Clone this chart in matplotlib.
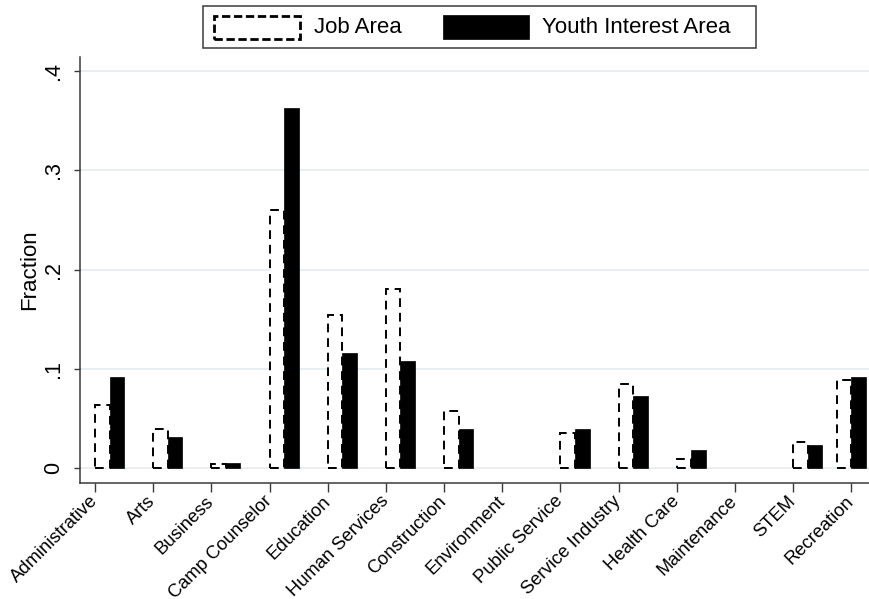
import matplotlib
matplotlib.use("Agg")
import matplotlib.pyplot as plt
from matplotlib.patches import Rectangle
from matplotlib.transforms import ScaledTranslation
import numpy as np

plt.rcParams['font.family'] = ['Liberation Sans', 'DejaVu Sans']

categories = ["Administrative", "Arts", "Business", "Camp Counselor", "Education",
              "Human Services", "Construction", "Environment", "Public Service",
              "Service Industry", "Health Care", "Maintenance", "STEM", "Recreation"]
job_area = [0.063, 0.039, 0.0034, 0.260, 0.154, 0.180, 0.057, 0.0, 0.035,
            0.084, 0.009, 0.0, 0.026, 0.089]
youth_interest = [0.092, 0.031, 0.005, 0.363, 0.116, 0.108, 0.039, 0.0, 0.039,
                  0.072, 0.018, 0.0, 0.023, 0.092]
# bar left-edge positions (Recreation bars sit half a bar-width to the left)
bar_pos = [0, 1, 2, 3, 4, 5, 6, 7, 8, 9, 10, 11, 12, 12.75]
yticks = [0, 0.1, 0.2, 0.3, 0.4]
yticklabels = ["0", ".1", ".2", ".3", ".4"]
legend_labels = ["Job Area", "Youth Interest Area"]

W, H = 870, 599
fig = plt.figure(figsize=(W / 100, H / 100), dpi=100)

def fx(x):
    return x / W

def fy(y):
    return 1 - y / H

ax_l, ax_r, ax_t, ax_b = 80, 870, 56.7, 482.7
ax = fig.add_axes([fx(ax_l), fy(ax_b), fx(ax_r - ax_l), (ax_b - ax_t) / H])

bw = 0.25
pos = np.array(bar_pos, dtype=float)
job = np.array(job_area)
youth = np.array(youth_interest)
mj = job > 0
my = youth > 0
ax.bar(pos[mj], job[mj], width=bw, align='edge', facecolor='white',
       edgecolor='black', linewidth=1.4, linestyle=(0, (4.5, 3)), zorder=3)
ax.bar(pos[my] + bw, youth[my], width=bw, align='edge', facecolor='black',
       edgecolor='black', linewidth=0.5, zorder=3)

ax.set_xlim(-0.258, 13.32)
ax.set_ylim(-0.0151, 0.4147)

ax.set_yticks(yticks)
ax.set_yticklabels(yticklabels, rotation=90, va='center', fontsize=15.5)
ax.yaxis.grid(True, color='#e6eef1', linewidth=1.3, zorder=0)
ax.set_axisbelow(True)

ax.set_xticks(np.arange(len(categories)))
ax.set_xticklabels(categories, rotation=45, ha='right', va='center',
                   rotation_mode='anchor', fontsize=13.2)
off = ScaledTranslation(2.5 / 72, 0, fig.dpi_scale_trans)
for lab in ax.get_xticklabels():
    lab.set_transform(lab.get_transform() + off)

for s in ['top', 'right']:
    ax.spines[s].set_visible(False)
for s in ['left', 'bottom']:
    ax.spines[s].set_color('#3a3a3a')
    ax.spines[s].set_linewidth(1.1)
ax.tick_params(axis='y', length=4.3, width=1.0, color='#3a3a3a', pad=7)
ax.tick_params(axis='x', length=6.5, width=1.0, color='#3a3a3a', pad=5)

ax.set_ylabel("Fraction", fontsize=16, labelpad=2)

# legend box drawn in figure pixel coordinates
fig.patches.append(Rectangle((fx(203.5), fy(48.3)), fx(756 - 203.5), (48.3 - 6) / H,
                             transform=fig.transFigure, facecolor='white',
                             edgecolor='#3a3a3a', linewidth=1.1))
fig.patches.append(Rectangle((fx(214), fy(39)), fx(300 - 214), (39 - 15.5) / H,
                             transform=fig.transFigure, facecolor='white',
                             edgecolor='black', linewidth=2.0, linestyle=(0, (3, 1.3))))
fig.patches.append(Rectangle((fx(442.7), fy(39.3)), fx(529.3 - 442.7), (39.3 - 15) / H,
                             transform=fig.transFigure, facecolor='black',
                             edgecolor='black', linewidth=0.5))
fig.text(fx(314), fy(27.5), legend_labels[0], fontsize=16, va='center', ha='left')
fig.text(fx(542), fy(27.5), legend_labels[1], fontsize=16, va='center', ha='left')

fig.savefig("out.png", dpi=100, facecolor='white')
